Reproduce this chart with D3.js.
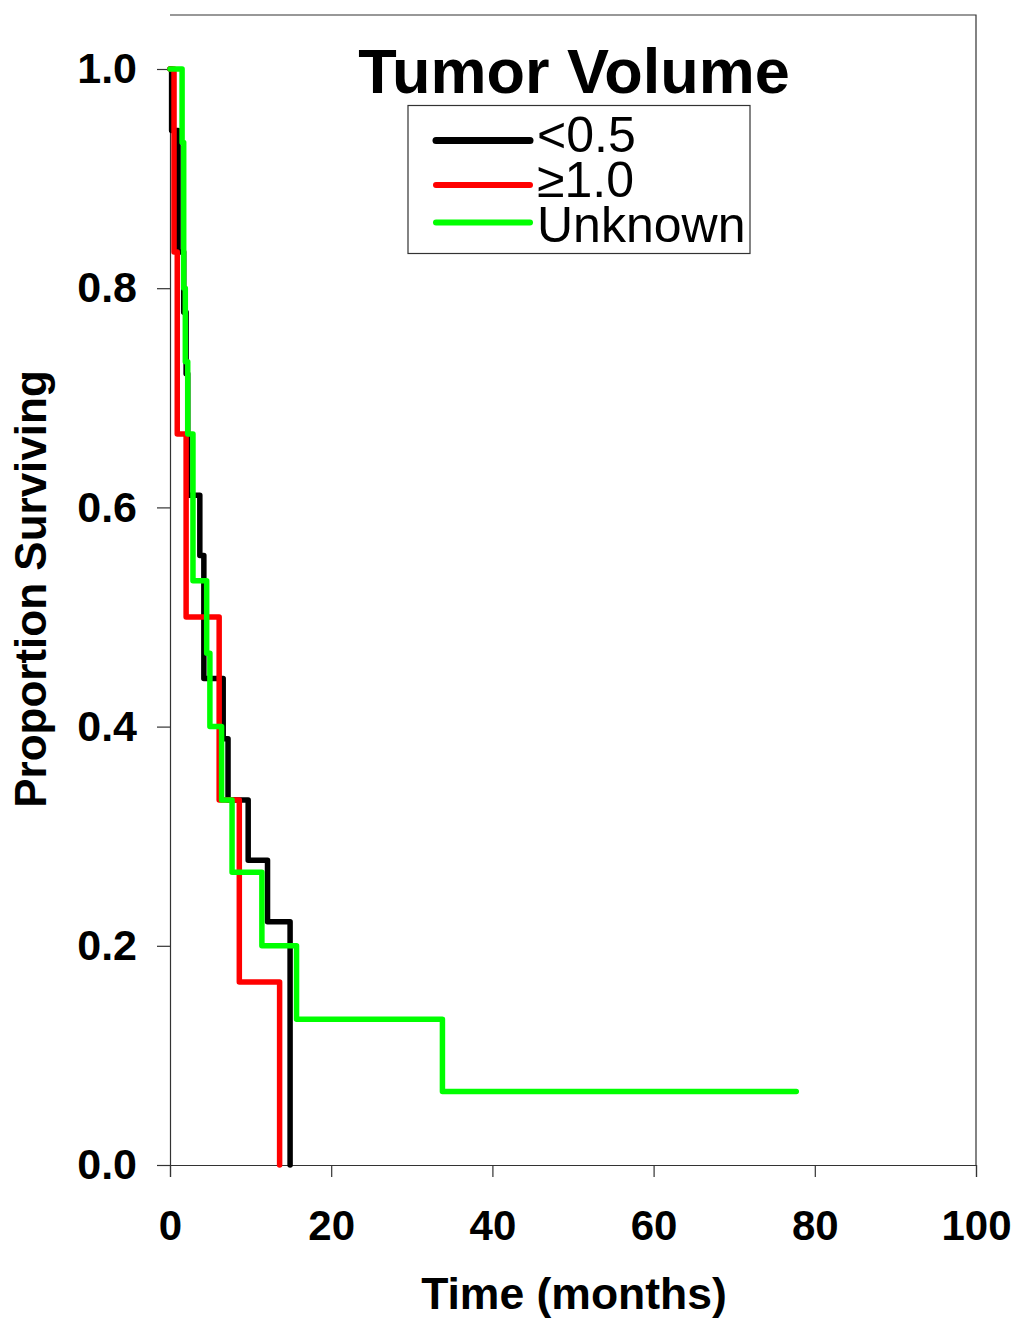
<!DOCTYPE html>
<html>
<head>
<meta charset="utf-8">
<script src="https://cdn.jsdelivr.net/npm/d3@7"></script>
<style>
  html, body { margin: 0; padding: 0; background: #fff; }
  svg { display: block; font-family: "Liberation Sans", Arial, sans-serif; }
</style>
</head>
<body>
<svg id="chart" width="1024" height="1327"></svg>
<script>
// ---- Data ----
const seriesNames = ["<0.5", "\u22651.0", "Unknown"];
const seriesColors = ["#000000", "#ff0000", "#00ff00"];

const blackTimes = [0, 0.2, 1.0, 1.7, 2.0, 2.2, 3.7, 4.2, 6.6, 7.2, 9.7, 12.1, 14.9];
const blackSurv  = [1, 0.944, 0.833, 0.778, 0.722, 0.611, 0.556, 0.444, 0.389, 0.333, 0.278, 0.222, 0];

const redTimes = [0, 0.5, 0.9, 2.0, 6.1, 8.6, 13.6];
const redSurv  = [1, 0.833, 0.667, 0.5, 0.333, 0.167, 0];

const greenTimes = [0, 1.5, 1.7, 1.9, 2.2, 2.85, 4.55, 4.95, 6.4, 7.7, 11.4, 15.7, 33.8, 77.7];
const greenSurv  = [1, 0.933, 0.8, 0.733, 0.667, 0.533, 0.467, 0.4, 0.333, 0.267, 0.2, 0.133, 0.067, 0.067];

const xTicks = [0, 20, 40, 60, 80, 100];
const yTicks = [0, 0.2, 0.4, 0.6, 0.8, 1.0];

const titleText = "Tumor Volume";
const xTitle = "Time (months)";
const yTitle = "Proportion Surviving";

// ---- Layout ----
(function () {
const svg = d3.select("#chart");
const pL = 170, pR = 976, pT = 15, pB = 1165;
const x = d3.scaleLinear().domain([0, 100]).range([pL, pR]);
const y = d3.scaleLinear().domain([0, 1]).range([pB, 69]);

// frame (top and right)
svg.append("path")
  .attr("d", `M${pL},${pT}H${pR}V${pB}`)
  .attr("fill", "none").attr("stroke", "#333").attr("stroke-width", 1.2);

// axes
const xAxis = d3.axisBottom(x).tickValues(xTicks).tickSize(12).tickPadding(33)
  .tickFormat(d3.format("d"));
const gx = svg.append("g").attr("transform", `translate(0,${pB})`).call(xAxis);
gx.select(".domain").attr("stroke", "#333").attr("stroke-width", 1.2);
gx.selectAll(".tick line").attr("stroke", "#333").attr("stroke-width", 1.2);
gx.selectAll(".tick text").attr("font-size", 42).attr("font-weight", "bold")
  .attr("font-family", "Liberation Sans, Arial, sans-serif").attr("fill", "#000");

const yAxis = d3.axisLeft(y).tickValues(yTicks).tickSize(13).tickPadding(20)
  .tickFormat(d3.format(".1f"));
const gy = svg.append("g").attr("transform", `translate(${pL},0)`).call(yAxis);
gy.select(".domain").attr("stroke", "#333").attr("stroke-width", 1.2);
gy.selectAll(".tick line").attr("stroke", "#333").attr("stroke-width", 1.2);
gy.selectAll(".tick text").attr("font-size", 43).attr("font-weight", "bold")
  .attr("font-family", "Liberation Sans, Arial, sans-serif").attr("fill", "#000");

// axis titles
svg.append("text").attr("x", 574).attr("y", 1309).attr("text-anchor", "middle")
  .attr("font-size", 44.5).attr("font-weight", "bold").text(xTitle);
svg.append("text").attr("transform", "translate(46,589) rotate(-90)")
  .attr("text-anchor", "middle").attr("font-size", 44).attr("font-weight", "bold").text(yTitle);

// curves
const line = d3.line().x(d => x(d[0])).y(d => y(d[1])).curve(d3.curveStepAfter);
const series = [
  d3.zip(blackTimes, blackSurv),
  d3.zip(redTimes, redSurv),
  d3.zip(greenTimes, greenSurv)
];
series.forEach((s, i) => {
  svg.append("path").datum(s).attr("d", line)
    .attr("fill", "none").attr("stroke", seriesColors[i]).attr("stroke-width", 5.5)
    .attr("stroke-linejoin", "round").attr("stroke-linecap", "round");
});

// title
svg.append("text").attr("x", 574).attr("y", 93).attr("text-anchor", "middle")
  .attr("font-size", 63).attr("font-weight", "bold").text(titleText);

// legend
const lg = svg.append("g");
lg.append("rect").attr("x", 408).attr("y", 105.5).attr("width", 342).attr("height", 148)
  .attr("fill", "#fff").attr("stroke", "#333").attr("stroke-width", 1.2);
const legY = [140.5, 185, 222.5];
const legBase = [152, 196.5, 241.5];
seriesNames.forEach((n, i) => {
  lg.append("line").attr("x1", 436).attr("x2", 530).attr("y1", legY[i]).attr("y2", legY[i])
    .attr("stroke", seriesColors[i]).attr("stroke-width", i === 0 ? 7 : 6)
    .attr("stroke-linecap", "round");
  lg.append("text").attr("x", 537).attr("y", legBase[i]).attr("font-size", 50)
    .attr("fill", "#000").text(n);
});
})();
</script>
</body>
</html>
